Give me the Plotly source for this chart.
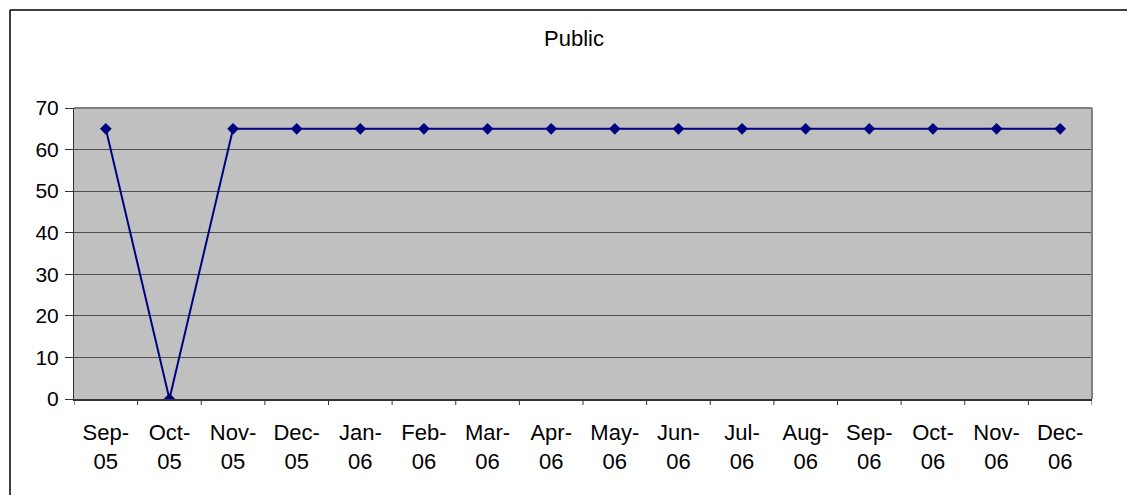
import plotly.graph_objects as go

# Monthly series for the "Public" chart
months = ["Sep-<br>05", "Oct-<br>05", "Nov-<br>05", "Dec-<br>05", "Jan-<br>06", "Feb-<br>06",
          "Mar-<br>06", "Apr-<br>06", "May-<br>06", "Jun-<br>06", "Jul-<br>06", "Aug-<br>06",
          "Sep-<br>06", "Oct-<br>06", "Nov-<br>06", "Dec-<br>06"]
public_values = [65, 0, 65, 65, 65, 65, 65, 65, 65, 65, 65, 65, 65, 65, 65, 65]
y_ticks = [0, 10, 20, 30, 40, 50, 60, 70]

W, H = 1128, 496
L, R, T, B = 74, 36, 108, 97
pw, ph = W - L - R, H - T - B

fig = go.Figure()
fig.add_trace(go.Scatter(
    x=list(range(len(months))), y=public_values, mode="lines+markers",
    line=dict(color="#000080", width=2),
    marker=dict(symbol="diamond", size=9, color="#000080"),
    showlegend=False, hoverinfo="skip",
))

font = "Liberation Sans, Arial, sans-serif"
fig.update_layout(
    width=W, height=H,
    margin=dict(l=L, r=R, t=T, b=B),
    paper_bgcolor="white", plot_bgcolor="#C0C0C0",
    font=dict(family=font, size=21, color="black"),
    xaxis=dict(
        range=[-0.5, len(months) - 0.5],
        tickmode="array", tickvals=list(range(len(months))), ticktext=months,
        showgrid=False, zeroline=False,
        showline=True, linecolor="#333333", linewidth=2,
        ticks="", ticklabelstandoff=13,
        tickfont=dict(size=22),
    ),
    yaxis=dict(
        range=[0, 70], tickmode="array", tickvals=y_ticks,
        showgrid=True, gridcolor="#505050", gridwidth=1,
        zeroline=False,
        showline=True, linecolor="#333333", linewidth=1,
        ticks="outside", ticklen=8, tickcolor="#333333",
        ticklabelstandoff=2,
        tickfont=dict(size=21),
    ),
    annotations=[dict(
        text="Public", xref="paper", yref="paper",
        x=(574 - L) / pw, y=(H - B - 39) / ph,
        xanchor="center", yanchor="middle", showarrow=False,
        font=dict(size=22, family=font),
    )],
)

shapes = []
# plot-area frame on the top and right edges
shapes.append(dict(type="line", xref="paper", yref="paper", x0=0, x1=1, y0=1, y1=1,
                   line=dict(color="#808080", width=2)))
shapes.append(dict(type="line", xref="paper", yref="paper", x0=1, x1=1, y0=0, y1=1,
                   line=dict(color="#808080", width=2)))
# category boundary ticks below the x axis
for i in range(len(months) + 1):
    xb = i - 0.5
    shapes.append(dict(type="line", xref="x", yref="paper", x0=xb, x1=xb,
                       y0=0, y1=-6 / ph, line=dict(color="#333333", width=1)))
# outer chart border: left and top edges, kept inside the page
bx, by = (10 - L) / pw, (H - B - 10) / ph
shapes.append(dict(type="line", xref="paper", yref="paper",
                   x0=bx, x1=bx, y0=-(B - 1) / ph, y1=by,
                   line=dict(color="black", width=1.5), layer="below"))
shapes.append(dict(type="line", xref="paper", yref="paper",
                   x0=bx, x1=(W - 1 - L) / pw, y0=by, y1=by,
                   line=dict(color="black", width=1.5), layer="below"))
fig.update_layout(shapes=shapes)

fig.write_html("out.html")
